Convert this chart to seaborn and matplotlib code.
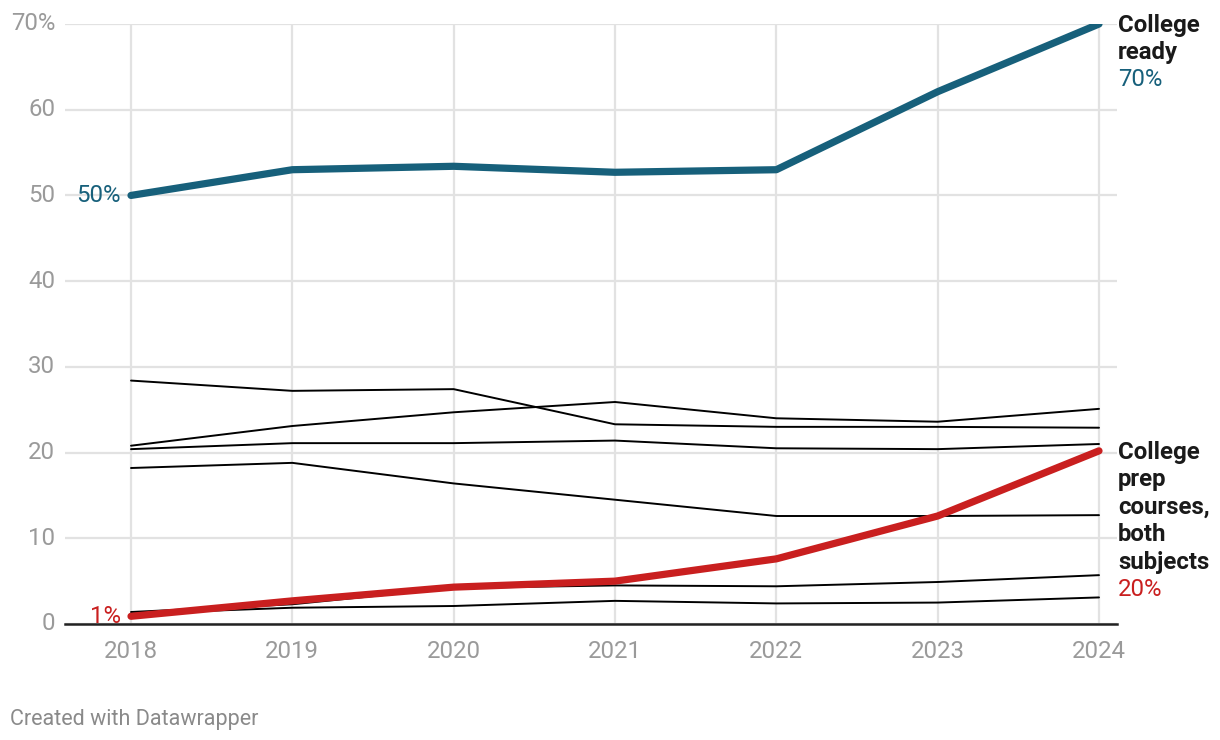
import matplotlib
matplotlib.use("Agg")
import matplotlib.pyplot as plt
import pandas as pd
import seaborn as sns

years = [2018, 2019, 2020, 2021, 2022, 2023, 2024]

college_ready = [50.0, 53.0, 53.4, 52.7, 53.0, 62.1, 70.0]
prep_both = [0.9, 2.7, 4.3, 5.0, 7.6, 12.6, 20.2]

# other (unlabelled) series, drawn thin in black
other_a = [28.4, 27.2, 27.4, 23.3, 23.0, 23.0, 22.9]
other_b = [20.8, 23.1, 24.7, 25.9, 24.0, 23.6, 25.1]
other_c = [20.4, 21.1, 21.1, 21.4, 20.5, 20.4, 21.0]
other_d = [18.2, 18.8, 16.4, 14.5, 12.6, 12.6, 12.7]
other_e = [1.4, 2.3, 4.2, 4.5, 4.4, 4.9, 5.7]
other_f = [1.2, 1.9, 2.1, 2.7, 2.4, 2.5, 3.1]

y_ticks = [0, 10, 20, 30, 40, 50, 60, 70]
y_labels = ["0", "10", "20", "30", "40", "50", "60", "70%"]

BLUE = "#17607b"
RED = "#c91f1f"
GREY = "#9a9a9a"
FS = 17.3

sns.set_style("white")
plt.rcParams["font.family"] = ["Roboto", "DejaVu Sans"]

frames = []
for name, vals in [("a", other_a), ("b", other_b), ("c", other_c),
                   ("d", other_d), ("e", other_e), ("f", other_f)]:
    frames.append(pd.DataFrame({"year": years, "value": vals, "series": name}))
others = pd.concat(frames)

fig = plt.figure(figsize=(12.2, 7.4), dpi=100)
ax = fig.add_axes([65 / 1220, 1 - 624 / 740, (1117 - 65) / 1220, 600 / 740])

sns.lineplot(data=others, x="year", y="value", units="series", estimator=None,
             color="black", linewidth=1.4, ax=ax, zorder=3)
sns.lineplot(x=years, y=prep_both, color=RED, linewidth=5.2, ax=ax, zorder=4,
             solid_capstyle="round", solid_joinstyle="round")
sns.lineplot(x=years, y=college_ready, color=BLUE, linewidth=5.2, ax=ax, zorder=5,
             solid_capstyle="round", solid_joinstyle="round")

step = 968 / 6          # px per year
ppu = 600 / 70          # px per percentage point
ax.set_xlim(2018 - 66 / step, 2024 + 18 / step)
ax.set_ylim(0, 70)
ax.set_xticks(years)
ax.set_xticklabels([str(y) for y in years])
ax.set_yticks(y_ticks)
ax.set_yticklabels(y_labels)
ax.set_xlabel("")
ax.set_ylabel("")

ax.grid(True, color="#e2e2e2", linewidth=1.6, zorder=0)
ax.set_axisbelow(True)
for s in ["top", "right", "left"]:
    ax.spines[s].set_visible(False)
ax.spines["bottom"].set_color("#222222")
ax.spines["bottom"].set_linewidth(1.8)
ax.spines["bottom"].set_zorder(6)
ax.tick_params(axis="both", length=0, labelsize=FS, labelcolor=GREY)
ax.tick_params(axis="y", pad=7)
ax.tick_params(axis="x", pad=11.5)
for lbl in ax.get_yticklabels():
    lbl.set_verticalalignment("center")

# end labels
x_lab = 2024 + 19 / step
ax.text(x_lab, 70 + 10 / ppu, "College\nready", fontsize=FS, fontweight="bold",
        color="#1a1a1a", va="top", ha="left", linespacing=1.25, clip_on=False)
ax.text(x_lab, 70 - 56 / ppu, "70%", fontsize=FS, color=BLUE,
        va="center", ha="left", clip_on=False)

ax.text(x_lab, prep_both[-1] + 10 / ppu,
        "College\nprep\ncourses,\nboth\nsubjects", fontsize=FS, fontweight="bold",
        color="#1a1a1a", va="top", ha="left", linespacing=1.25, clip_on=False)
ax.text(x_lab, prep_both[-1] - 139 / ppu, "20%", fontsize=FS,
        color=RED, va="center", ha="left", clip_on=False)

ax.text(2018 - 10 / step, college_ready[0], "50%", fontsize=FS, color=BLUE,
        va="center", ha="right")
ax.text(2018 - 10 / step, prep_both[0], "1%", fontsize=FS, color=RED,
        va="center", ha="right", clip_on=False)

fig.text(10 / 1220, 1 - 719 / 740, "Created with Datawrapper", fontsize=15.5,
         color="#8a8a8a", va="center", ha="left")

fig.savefig("out.png", dpi=100)
plt.close(fig)
